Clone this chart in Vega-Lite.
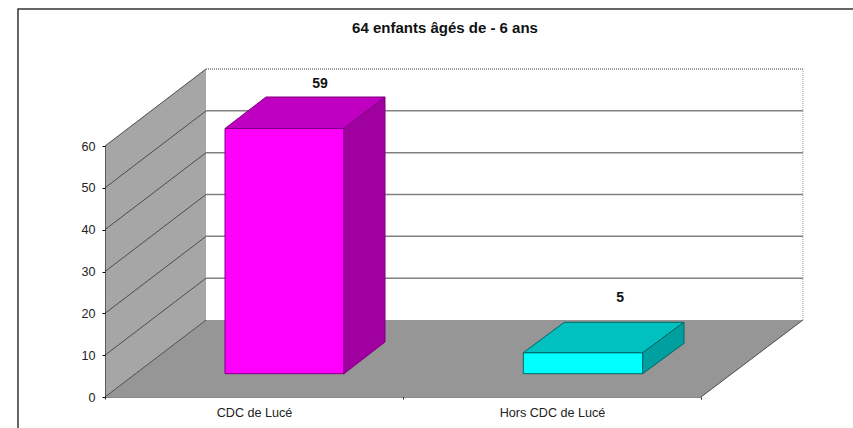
{"$schema":"https://vega.github.io/schema/vega-lite/v6.json","width":596,"height":251,"autosize":{"type":"none"},"padding":{"left":105,"top":146,"right":152,"bottom":31},"background":"white","title":{"text":"64 enfants âgés de - 6 ans","font":"Liberation Sans","fontSize":15,"fontWeight":"bold","color":"#111111","dx":42,"offset":-28,"anchor":"middle"},"datasets":{"cadre":[{"x":-0.292,"x2":2.53,"y":92.75,"y2":-9.1}],"parois":[{"face":"mur","o":1,"x":0,"y":0},{"face":"mur","o":2,"x":0,"y":60},{"face":"mur","o":3,"x":0.339,"y":78.4},{"face":"mur","o":4,"x":0.339,"y":18.4},{"face":"sol","o":1,"x":0,"y":0},{"face":"sol","o":2,"x":2,"y":0},{"face":"sol","o":3,"x":2.342,"y":18.4},{"face":"sol","o":4,"x":0.339,"y":18.4}],"obliques":[{"v":0,"o":1,"x":0,"y":0},{"v":0,"o":2,"x":0.339,"y":18.4},{"v":10,"o":1,"x":0,"y":10},{"v":10,"o":2,"x":0.339,"y":28.4},{"v":20,"o":1,"x":0,"y":20},{"v":20,"o":2,"x":0.339,"y":38.4},{"v":30,"o":1,"x":0,"y":30},{"v":30,"o":2,"x":0.339,"y":48.4},{"v":40,"o":1,"x":0,"y":40},{"v":40,"o":2,"x":0.339,"y":58.4},{"v":50,"o":1,"x":0,"y":50},{"v":50,"o":2,"x":0.339,"y":68.4},{"v":60,"o":1,"x":0,"y":60},{"v":60,"o":2,"x":0.339,"y":78.4},{"v":100,"o":1,"x":2,"y":0},{"v":100,"o":2,"x":2.342,"y":18.4}],"grille":[{"v":10,"x":0.339,"x2":2.342,"y":28.4},{"v":20,"x":0.339,"x2":2.342,"y":38.4},{"v":30,"x":0.339,"x2":2.342,"y":48.4},{"v":40,"x":0.339,"x2":2.342,"y":58.4},{"v":50,"x":0.339,"x2":2.342,"y":68.4}],"barres":[{"face":"CDC avant","o":1,"x":0.4027,"y":5.57},{"face":"CDC avant","o":2,"x":0.802,"y":5.57},{"face":"CDC avant","o":3,"x":0.802,"y":64.18},{"face":"CDC avant","o":4,"x":0.4027,"y":64.18},{"face":"CDC avant","o":5,"x":0.4027,"y":5.57},{"face":"CDC haut","o":1,"x":0.4027,"y":64.18},{"face":"CDC haut","o":2,"x":0.802,"y":64.18},{"face":"CDC haut","o":3,"x":0.9396,"y":71.71},{"face":"CDC haut","o":4,"x":0.5403,"y":71.71},{"face":"CDC haut","o":5,"x":0.4027,"y":64.18},{"face":"CDC cote","o":1,"x":0.802,"y":5.57},{"face":"CDC cote","o":2,"x":0.802,"y":64.18},{"face":"CDC cote","o":3,"x":0.9396,"y":71.71},{"face":"CDC cote","o":4,"x":0.9396,"y":13.15},{"face":"CDC cote","o":5,"x":0.802,"y":5.57},{"face":"Hors avant","o":1,"x":1.4037,"y":5.57},{"face":"Hors avant","o":2,"x":1.8044,"y":5.57},{"face":"Hors avant","o":3,"x":1.8044,"y":10.59},{"face":"Hors avant","o":4,"x":1.4037,"y":10.59},{"face":"Hors avant","o":5,"x":1.4037,"y":5.57},{"face":"Hors haut","o":1,"x":1.4037,"y":10.59},{"face":"Hors haut","o":2,"x":1.8044,"y":10.59},{"face":"Hors haut","o":3,"x":1.943,"y":17.86},{"face":"Hors haut","o":4,"x":1.5413,"y":17.86},{"face":"Hors haut","o":5,"x":1.4037,"y":10.59},{"face":"Hors cote","o":1,"x":1.8044,"y":5.57},{"face":"Hors cote","o":2,"x":1.8044,"y":10.59},{"face":"Hors cote","o":3,"x":1.943,"y":17.86},{"face":"Hors cote","o":4,"x":1.943,"y":12.84},{"face":"Hors cote","o":5,"x":1.8044,"y":5.57}],"etiquettes":[{"categorie":"CDC de Lucé","valeur":59,"x":0.7215,"y":74.9},{"categorie":"Hors CDC de Lucé","valeur":5,"x":1.729,"y":23.6}]},"encoding":{"x":{"field":"x","type":"quantitative","title":null,"scale":{"domain":[0,2],"nice":false,"zero":false},"axis":{"values":[0,0.5,1,1.5,2],"grid":false,"domainDash":[1,1],"domainColor":"#111111","domainWidth":1,"tickColor":"#111111","tickSize":2,"tickOpacity":{"condition":{"test":"datum.value % 1 == 0","value":1},"value":0},"labelExpr":"datum.value == 0.5 ? 'CDC de Lucé' : datum.value == 1.5 ? 'Hors CDC de Lucé' : ''","labelFont":"Liberation Sans","labelFontSize":12.6,"labelColor":"#222222","labelPadding":7,"labelOverlap":false,"labelFlush":false,"labelAngle":0,"zindex":1}},"y":{"field":"y","type":"quantitative","title":null,"scale":{"domain":[0,60],"nice":false,"zero":false},"axis":{"values":[0,10,20,30,40,50,60],"grid":false,"domainDash":[1,1],"domainColor":"#111111","domainWidth":1,"tickColor":"#111111","tickSize":3,"labelFont":"Liberation Sans","labelFontSize":12.6,"labelColor":"#222222","labelPadding":7,"labelOverlap":false,"labelFlush":false,"zindex":1}}},"layer":[{"data":{"name":"cadre"},"mark":{"type":"rect","fill":"white","stroke":"#333333","strokeWidth":1.5},"encoding":{"x2":{"field":"x2"},"y2":{"field":"y2"}}},{"data":{"name":"parois"},"mark":{"type":"line","filled":true,"strokeWidth":0,"clip":false},"encoding":{"order":{"field":"o","type":"quantitative"},"fill":{"field":"face","type":"nominal","legend":null,"scale":{"domain":["mur","sol"],"range":["#a6a6a6","#969696"]}}}},{"data":{"name":"obliques"},"mark":{"type":"line","stroke":"#4d4d4d","strokeWidth":1},"encoding":{"detail":{"field":"v","type":"nominal"},"order":{"field":"o","type":"quantitative"}}},{"data":{"name":"grille"},"mark":{"type":"rule","stroke":"#808080","strokeWidth":1.5},"encoding":{"x2":{"field":"x2"}}},{"data":{"values":[{"x":0.339,"x2":2.342,"y":78.4}]},"mark":{"type":"rule","stroke":"#333333","strokeWidth":1,"strokeDash":[1,1]},"encoding":{"x2":{"field":"x2"}}},{"data":{"values":[{"x":2.342,"y":18.4,"y2":78.4}]},"mark":{"type":"rule","stroke":"#999999","strokeWidth":1,"strokeDash":[1,1]},"encoding":{"y2":{"field":"y2"}}},{"data":{"name":"barres"},"mark":{"type":"line","filled":true,"strokeWidth":1},"encoding":{"order":{"field":"o","type":"quantitative"},"fill":{"field":"face","type":"nominal","legend":null,"scale":{"domain":["CDC avant","CDC haut","CDC cote","Hors avant","Hors haut","Hors cote"],"range":["#ff00ff","#c000c0","#a000a0","#00ffff","#00c0c0","#00a0a0"]}},"stroke":{"field":"face","type":"nominal","legend":null,"scale":{"domain":["CDC avant","CDC haut","CDC cote","Hors avant","Hors haut","Hors cote"],"range":["#800080","#800080","#800080","#006666","#006666","#006666"]}}}},{"data":{"name":"etiquettes"},"mark":{"type":"text","font":"Liberation Sans","fontSize":14,"fontWeight":"bold","color":"#111111"},"encoding":{"text":{"field":"valeur","type":"quantitative"}}}],"resolve":{"scale":{"fill":"independent","stroke":"independent"}},"config":{"view":{"stroke":null}}}
